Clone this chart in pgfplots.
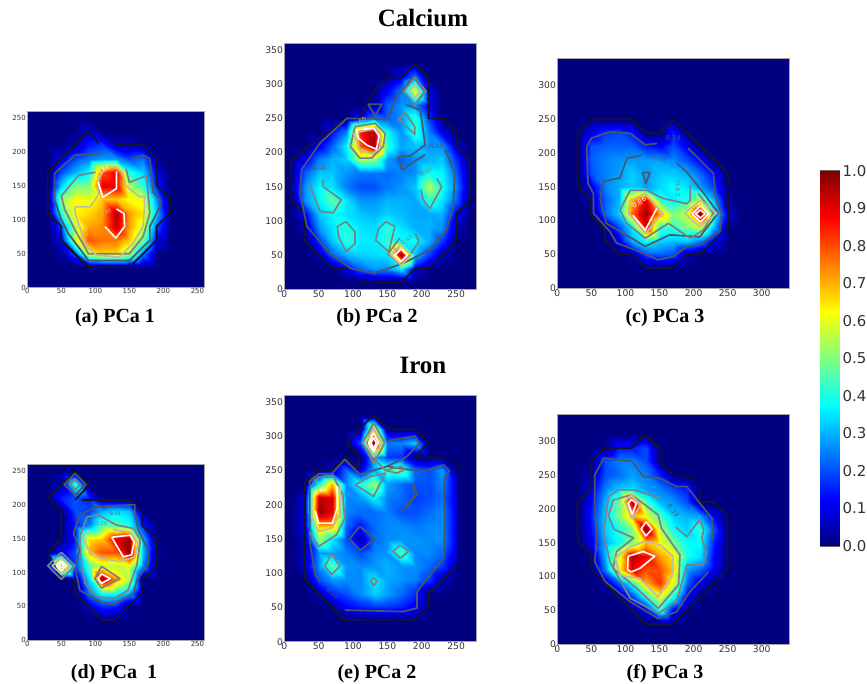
\documentclass[border=0pt]{standalone}
\usepackage{fontspec}
\setmainfont{Liberation Serif}
\newfontfamily\vera{DejaVu Sans}
\usepackage{pgfplots}
\pgfplotsset{compat=1.18}
\definecolor{cnavy}{RGB}{0,0,128}
\definecolor{ck}{RGB}{18,22,40}
\definecolor{cs}{RGB}{72,88,105}
\definecolor{cg}{RGB}{120,130,135}
\definecolor{cl}{RGB}{190,188,170}
\definecolor{ctxt}{RGB}{50,50,50}
\pgfplotsset{
 pan/.style={scale only axis,anchor=south west,colormap/jet,point meta min=0,point meta max=1,
  axis background/.style={fill=cnavy},axis line style={draw=gray!70,line width=0.5pt},
  major tick length=0pt,tick style={draw=none},
  clip=true,axis on top=false,xmin=0,ymin=0,
  /pgf/number format/assume math mode=true,
  ticklabel style={text=ctxt}},
 sm/.style={ticklabel style={font=\vera\fontsize{5.3}{5.5}\selectfont,text=ctxt},xticklabel style={yshift=3pt},yticklabel style={xshift=2.5pt},xtick={0,50,...,250},ytick={0,50,...,250},xmax=260,ymax=260},
 lg/.style={ticklabel style={font=\vera\fontsize{6.9}{7}\selectfont,text=ctxt},xticklabel style={yshift=2.5pt},yticklabel style={xshift=2.5pt}},
 hm/.style={surf,shader=interp,mesh/cols=#1,point meta=explicit},
 K/.style={no marks,draw=ck,line width=1.35pt,line join=round},
 S/.style={no marks,draw=cs,line width=1.25pt,line join=round},
 G/.style={no marks,draw=cg,line width=1.25pt,line join=round},
 L/.style={no marks,draw=cl,line width=1.2pt,line join=round},
 W/.style={no marks,draw=white,line width=1.2pt,line join=round},
}
\tikzset{lab/.style={font=\vera\fontsize{3.6}{4}\selectfont,inner sep=0pt}}
\begin{document}
\begin{tikzpicture}
\useasboundingbox (0,0) rectangle (650.25pt,513pt);
% ---------- (a)
\begin{axis}[pan,sm,at={(20.475pt,297.225pt)},width=132.75pt,height=132.5pt]
\addplot[hm=12] table[row sep=\\,header=false,meta index=0,x expr={10+20*mod(\coordindex,12)},y expr={10+20*floor(\coordindex/12)}] {
0\\0\\0\\0\\0\\0\\0\\0\\0\\0\\0\\0\\
0\\0\\0\\0\\0\\0\\0\\0\\0\\0\\0\\0\\
0\\0\\.03\\.2\\.58\\.66\\.66\\.53\\.25\\0\\0\\0\\
0\\0\\.1\\.58\\.8\\.76\\.76\\.68\\.48\\.1\\0\\0\\
0\\0\\.2\\.55\\.72\\.74\\.93\\.72\\.58\\.2\\0\\0\\
0\\0\\.42\\.63\\.66\\.72\\.95\\.72\\.65\\.3\\0\\0\\
0\\.02\\.52\\.62\\.6\\.68\\.68\\.62\\.6\\.25\\0\\0\\
0\\0\\.33\\.5\\.5\\.9\\.9\\.55\\.42\\.15\\0\\0\\
0\\0\\.2\\.3\\.38\\.8\\.9\\.4\\.33\\.1\\0\\0\\
0\\0\\.1\\.2\\.25\\.28\\.28\\.2\\.24\\.02\\0\\0\\
0\\0\\0\\.05\\.15\\.18\\.05\\.05\\.02\\0\\0\\0\\
0\\0\\0\\0\\.08\\0\\0\\0\\0\\0\\0\\0\\
0\\0\\0\\0\\0\\0\\0\\0\\0\\0\\0\\0\\
};
\addplot[K] coordinates {(105,212)(90,230)(30,170)(30,110)(50,90)(50,70)(90,30)(150,30)(190,70)(190,90)(210,110)(210,130)(190,150)(190,190)(170,210)(130,210)};
\addplot[S] coordinates {(109,197)(70,195)(40,168)(40,130)(50,100)(60,80)(90,40)(150,40)(180,70)(180,90)(195,120)(195,130)(185,140)(180,190)(170,195)(155,190)};
\addplot[G] coordinates {(100,170)(75,165)(50,135)(55,115)(70,85)(90,50)(150,50)(170,75)(180,110)(175,165)(150,155)(145,175)};
\addplot[L] coordinates {(70,119)(92,119)(104,136)(104,158)(115,178)(130,178)(140,170)(145,150)(165,134)(172,134)(172,115)(170,90)(155,65)(135,45)(102,48)(87,60)(70,110)(70,119)};
\addplot[W] coordinates {(114,90)(130,73)(143,90)(142,109)(131,116)};
\addplot[W] coordinates {(104,156)(111,133)(131,146)(131,171)};
\node[lab,text=white,rotate=30] at (axis cs:112,173) {0.83};
\node[lab,text=cl,rotate=30] at (axis cs:116,110) {0.83};
\end{axis}
% ---------- (b)
\begin{axis}[pan,lg,at={(213.225pt,296.025pt)},width=144.3pt,height=184.5pt,xmax=280,ymax=360,xtick={0,50,...,250},ytick={0,50,...,350}]
\addplot[hm=14] table[row sep=\\,header=false,meta index=0,x expr={10+20*mod(\coordindex,14)},y expr={10+20*floor(\coordindex/14)}] {
0\\0\\0\\0\\0\\0\\0\\0\\0\\0\\0\\0\\0\\0\\
0\\0\\0\\0\\.1\\.22\\.27\\.27\\.36\\.08\\0\\0\\0\\0\\
0\\0\\.05\\.22\\.3\\.33\\.34\\.35\\1\\.32\\.18\\.05\\0\\0\\
0\\0\\.18\\.32\\.41\\.36\\.36\\.41\\.37\\.38\\.3\\.18\\0\\0\\
0\\.05\\.27\\.35\\.41\\.35\\.34\\.41\\.35\\.3\\.3\\.27\\.05\\0\\
0\\.12\\.32\\.37\\.35\\.32\\.3\\.33\\.31\\.29\\.29\\.3\\.12\\0\\
0\\.27\\.37\\.47\\.35\\.27\\.27\\.3\\.3\\.29\\.42\\.35\\.22\\0\\
.03\\.27\\.37\\.35\\.25\\.2\\.2\\.24\\.27\\.32\\.56\\.39\\.25\\.03\\
.03\\.22\\.32\\.32\\.27\\.24\\.24\\.23\\.25\\.27\\.39\\.37\\.22\\.02\\
0\\.1\\.25\\.3\\.33\\.55\\.52\\.28\\.22\\.27\\.3\\.32\\.17\\0\\
0\\0\\.1\\.22\\.36\\.78\\.97\\.42\\.29\\.32\\.27\\.27\\.08\\0\\
0\\0\\0\\.13\\.25\\.85\\.95\\.38\\.27\\.42\\.25\\.1\\0\\0\\
0\\0\\0\\0\\0\\.1\\.25\\.22\\.27\\.42\\.18\\0\\0\\0\\
0\\0\\0\\0\\0\\0\\.05\\.22\\.27\\.27\\.1\\0\\0\\0\\
0\\0\\0\\0\\0\\0\\0\\.12\\.25\\.62\\.1\\0\\0\\0\\
0\\0\\0\\0\\0\\0\\0\\0\\.1\\.25\\0\\0\\0\\0\\
0\\0\\0\\0\\0\\0\\0\\0\\0\\.03\\0\\0\\0\\0\\
};
\addplot[K] coordinates {(93,30)(70,30)(30,70)(30,110)(10,130)(10,190)(90,250)(110,250)(130,290)(150,310)(170,310)(190,330)(210,310)(210,250)(230,250)(250,230)(250,210)(270,190)(270,130)(250,110)(250,70)(210,30)(190,30)(170,10)(130,10)};
\addplot[S] coordinates {(234,204)(248,170)(246,121)(236,87)(212,58)(173,38)(130,23)(96,31)(66,53)(33,92)(23,140)(25,175)(52,214)(91,250)(125,250)(149,248)(164,282)(188,311)(205,290)(190,270)};
\addplot[S] coordinates {(178,270)(198,262)(205,211)(183,195)(166,194)(171,175)(205,197)};
\addplot[S] coordinates {(122,271)(142,271)(132,254)(122,271)};
\addplot[G] coordinates {(36,155)(52,114)(71,112)(83,131)(57,150)(56,160)};
\addplot[G] coordinates {(90,99)(103,84)(103,67)(90,55)(79,77)(77,92)(90,99)};
\addplot[G] coordinates {(148,99)(161,92)(152,55)(133,72)(137,89)(148,99)};
\addplot[G] coordinates {(222,162)(229,150)(212,118)(202,131)(199,146)};
\addplot[G] coordinates {(176,258)(190,238)(190,227)(166,249)(176,258)};
\addplot[G] coordinates {(190,82)(196,70)(178,43)(168,36)(151,52)(168,75)};
\addplot[G] coordinates {(103,238)(132,243)(147,228)(144,209)(127,192)(110,192)(96,209)(103,238)};
\addplot[L] coordinates {(101,228)(134,236)(141,224)(139,206)(127,198)(110,204)(101,228)};
\addplot[W] coordinates {(105,233)(130,236)(138,224)(134,205)(120,211)(108,221)(105,233)};
\addplot[L] coordinates {(170,65)(185,50)(170,35)(155,50)(170,65)};
\addplot[W] coordinates {(170,59)(179,50)(170,41)(161,50)(170,59)};
\addplot[G] coordinates {(190,310)(206,290)(190,270)(174,290)(190,310)};
\addplot[L] coordinates {(190,300)(198,290)(190,280)(182,290)(190,300)};
\node[lab,text=cs,font=\vera\fontsize{4.5}{5}\selectfont] at (axis cs:50,177) {0.40};
\node[lab,text=cl,font=\vera\fontsize{4.5}{5}\selectfont,rotate=30] at (axis cs:110,245) {0.60};
\node[lab,text=cs,font=\vera\fontsize{4.5}{5}\selectfont] at (axis cs:222,209) {0.19};
\node[lab,text=cg,font=\vera\fontsize{4.5}{5}\selectfont,rotate=30] at (axis cs:206,172) {0.40};
\node[lab,text=cg,font=\vera\fontsize{4.5}{5}\selectfont,rotate=30] at (axis cs:178,72) {0.40};
\node[lab,text=ck,font=\vera\fontsize{4.5}{5}\selectfont,rotate=-20] at (axis cs:112,11) {0.00};
\end{axis}
% ---------- (c)
\begin{axis}[pan,lg,at={(417.975pt,296.775pt)},width=173.775pt,height=172.5pt,xmax=340,ymax=340,xtick={0,50,...,300},ytick={0,50,...,300}]
\addplot[hm=14] table[row sep=\\,header=false,meta index=0,x expr={10+20*mod(\coordindex,14)},y expr={10+20*floor(\coordindex/14)}] {
0\\0\\0\\0\\0\\0\\0\\0\\0\\0\\0\\0\\0\\0\\
0\\0\\0\\0\\0\\0\\0\\0\\0\\0\\0\\0\\0\\0\\
0\\0\\0\\0\\0\\.05\\.2\\.22\\.2\\.05\\0\\0\\0\\0\\
0\\0\\0\\0\\.1\\.3\\.38\\.33\\.32\\.33\\.25\\.1\\0\\0\\
0\\0\\0\\.03\\.2\\.36\\.9\\.42\\.42\\.5\\.58\\.3\\0\\0\\
0\\0\\0\\.22\\.33\\.78\\.98\\.72\\.5\\.58\\1\\.4\\.08\\0\\
0\\0\\.05\\.22\\.3\\.7\\.9\\.42\\.36\\.4\\.55\\.3\\.03\\0\\
0\\0\\.1\\.25\\.3\\.33\\.28\\.34\\.38\\.35\\.28\\.18\\0\\0\\
0\\0\\.2\\.25\\.28\\.33\\.28\\.32\\.32\\.3\\.22\\.12\\0\\0\\
0\\0\\.22\\.25\\.27\\.28\\.28\\.28\\.26\\.2\\.12\\0\\0\\0\\
0\\0\\.2\\.22\\.22\\.22\\.15\\.12\\.2\\.1\\0\\0\\0\\0\\
0\\0\\.1\\.18\\.2\\.15\\0\\0\\.15\\0\\0\\0\\0\\0\\
0\\0\\0\\0\\0\\0\\0\\0\\0\\0\\0\\0\\0\\0\\
0\\0\\0\\0\\0\\0\\0\\0\\0\\0\\0\\0\\0\\0\\
};
\addplot[K] coordinates {(251,135)(251,91)(209,50)(190,50)(170,30)(131,30)(109,50)(90,50)(70,71)(70,86)(48,110)(50,130)(30,151)(30,230)(50,250)(109,250)(131,230)(150,230)(170,250)(251,170)(251,150)};
\addplot[S] coordinates {(146,214)(129,212)(107,229)(77,231)(50,222)(43,209)(45,155)(53,140)(53,111)(77,84)(87,67)(126,52)(148,42)(170,47)(190,62)(209,64)(239,86)(241,110)(232,135)(229,170)(192,207)};
\addplot[S] coordinates {(124,197)(102,192)(92,163)(67,158)(63,131)(72,96)(129,62)(165,79)(209,76)(236,111)(219,135)(190,172)(175,185)};
\addplot[S] coordinates {(125,171)(136,171)(130,155)(125,171)};
\addplot[G] coordinates {(195,153)(195,130)(190,125)(155,133)(131,145)(107,145)(92,116)(102,96)(129,74)(163,96)(195,74)(214,86)(229,111)(207,140)};
\addplot[L] coordinates {(107,130)(129,140)(155,111)(129,81)(104,111)(107,130)};
\addplot[L] coordinates {(210,130)(234,111)(209,91)(187,111)(210,130)};
\addplot[W] coordinates {(146,118)(129,86)(111,108)};
\addplot[W] coordinates {(210,122)(222,110)(210,98)(198,110)(210,122)};
\addplot[W] coordinates {(210,116)(217,110)(210,104)(203,110)(210,116)};
\node[lab,text=cs,font=\vera\fontsize{5}{5}\selectfont,rotate=-15] at (axis cs:150,192) {0.29};
\node[lab,text=cs,font=\vera\fontsize{5}{5}\selectfont] at (axis cs:170,222) {0.14};
\node[lab,text=cg,font=\vera\fontsize{5}{5}\selectfont,rotate=-90] at (axis cs:177,147) {0.43};
\node[lab,text=white,font=\vera\fontsize{5}{5}\selectfont,rotate=30] at (axis cs:120,127) {0.86};
\node[lab,text=ck,font=\vera\fontsize{5}{5}\selectfont,rotate=-90] at (axis cs:248,128) {0.00};
\end{axis}
% ---------- (d)
\begin{axis}[pan,sm,at={(20.475pt,32.775pt)},width=132.75pt,height=132.2pt]
\addplot[hm=11] table[row sep=\\,header=false,meta index=0,x expr={10+20*mod(\coordindex,11)},y expr={10+20*floor(\coordindex/11)}] {
0\\0\\0\\0\\0\\0\\0\\0\\0\\0\\0\\
0\\0\\0\\0\\0\\0\\0\\0\\0\\0\\0\\
0\\0\\0\\0\\.08\\.17\\.15\\0\\0\\0\\0\\
0\\0\\0\\0\\.25\\.4\\.4\\.3\\0\\0\\0\\
0\\0\\0\\.02\\.35\\.98\\.72\\.55\\0\\0\\0\\
0\\0\\.9\\.18\\.45\\.58\\.55\\.6\\.25\\0\\0\\
0\\0\\.1\\.2\\.7\\.8\\.8\\.98\\.3\\.02\\0\\
0\\0\\0\\.15\\.65\\.68\\.9\\.98\\.3\\0\\0\\
0\\0\\0\\.15\\.25\\.45\\.45\\.4\\.15\\0\\0\\
0\\0\\0\\.2\\.18\\.3\\.35\\.32\\0\\0\\0\\
0\\0\\.15\\.2\\.15\\0\\0\\0\\0\\0\\0\\
0\\0\\.05\\.42\\0\\0\\0\\0\\0\\0\\0\\
0\\0\\0\\0\\0\\0\\0\\0\\0\\0\\0\\
};
\addplot[K] coordinates {(80,207)(151,207)(168,190)(168,170)(190,150)(190,109)(168,89)(168,69)(129,30)(109,30)(70,69)(70,89)(50,90)(30,129)(50,150)(50,190)(30,210)(70,249)(91,229)(70,207)};
\addplot[S] coordinates {(102,197)(158,200)(158,187)(163,163)(177,133)(178,113)(161,89)(156,69)(126,52)(107,57)(77,74)(70,109)(77,133)(68,158)(77,185)(102,197)};
\addplot[G] coordinates {(131,170)(104,185)(88,182)(77,153)(80,109)(85,84)(102,64)(129,62)(148,74)(161,111)(166,148)(156,165)(131,170)};
\addplot[L] coordinates {(126,163)(151,160)(163,143)(158,123)(136,116)(107,121)(90,133)(82,153)(90,163)};
\addplot[W] coordinates {(124,152)(151,155)(157,145)(153,126)(141,123)(124,152)};
\addplot[G] coordinates {(109,109)(136,91)(109,77)(99,91)(109,109)};
\addplot[W] coordinates {(109,98)(122,91)(109,84)(104,91)(109,98)};
\addplot[G] coordinates {(50,130)(70,110)(50,90)(30,110)(50,130)};
\addplot[L] coordinates {(50,123)(63,110)(50,97)(37,110)(50,123)};
\addplot[W] coordinates {(50,117)(57,110)(50,103)(43,110)(50,117)};
\addplot[W] coordinates {(50,113)(53,110)(50,107)(47,110)(50,113)};
\addplot[S] coordinates {(70,246)(86,230)(70,214)(54,230)(70,246)};
\addplot[G] coordinates {(70,238)(78,230)(70,222)(62,230)(70,238)};
\node[lab,text=cs] at (axis cs:129,187) {0.33};
\node[lab,text=cg] at (axis cs:109,172) {0.50};
\node[lab,text=cs] at (axis cs:90,197) {0.17};
\end{axis}
% ---------- (e)
\begin{axis}[pan,lg,at={(213.225pt,31.725pt)},width=144.3pt,height=185pt,xmax=280,ymax=360,xtick={0,50,...,250},ytick={0,50,...,350}]
\addplot[hm=13] table[row sep=\\,header=false,meta index=0,x expr={10+20*mod(\coordindex,13)},y expr={10+20*floor(\coordindex/13)}] {
0\\0\\0\\0\\0\\0\\0\\0\\0\\0\\0\\0\\0\\
0\\0\\0\\0\\0\\0\\0\\0\\0\\0\\0\\0\\0\\
0\\0\\0\\.02\\.12\\.15\\.17\\.17\\.15\\.1\\0\\0\\0\\
0\\0\\.05\\.15\\.2\\.26\\.33\\.28\\.23\\.16\\0\\0\\0\\
0\\0\\.2\\.27\\.26\\.26\\.36\\.29\\.27\\.25\\.18\\.05\\0\\
0\\.08\\.27\\.47\\.27\\.26\\.27\\.3\\.27\\.27\\.23\\.18\\.03\\
0\\.05\\.27\\.28\\.25\\.2\\.26\\.27\\.45\\.26\\.26\\.23\\.08\\
0\\.05\\.53\\.36\\.2\\.05\\.23\\.26\\.27\\.27\\.26\\.27\\.1\\
0\\.1\\.72\\.72\\.23\\.15\\.23\\.26\\.26\\.24\\.26\\.26\\.1\\
0\\.1\\.98\\.9\\.26\\.23\\.23\\.25\\.2\\.2\\.23\\.26\\.1\\
0\\.1\\.95\\.92\\.26\\.27\\.37\\.25\\.23\\.18\\.2\\.23\\.08\\
0\\0\\.4\\.7\\.26\\.4\\.53\\.28\\.23\\.2\\.2\\.26\\.08\\
0\\0\\0\\.05\\.23\\.1\\.3\\.45\\.48\\.23\\.2\\.28\\0\\
0\\0\\0\\0\\0\\0\\.3\\.18\\.17\\0\\0\\0\\0\\
0\\0\\0\\0\\0\\.2\\1\\.25\\.26\\.33\\0\\0\\0\\
0\\0\\0\\0\\0\\0\\.65\\0\\0\\0\\0\\0\\0\\
0\\0\\0\\0\\0\\0\\0\\0\\0\\0\\0\\0\\0\\
};
\addplot[K] coordinates {(250,110)(210,71)(210,51)(190,32)(88,32)(30,90)(30,232)(50,251)(69,251)(90,270)(109,251)(109,270)(90,290)(130,331)(150,310)(190,310)(210,290)(190,270)(232,268)};
\addplot[S] coordinates {(52,88)(45,98)(37,146)(37,234)(50,245)(69,245)(88,266)(110,244)(130,250)(150,256)(178,270)(197,290)(190,300)(150,293)};
\addplot[S] coordinates {(150,256)(200,248)(232,258)(240,250)(232,234)(234,180)(232,122)(193,73)(193,49)(173,44)(88,46)};
\addplot[S] coordinates {(110,168)(132,150)(110,133)(95,150)(110,168)};
\addplot[S] coordinates {(188,232)(193,215)(171,190)(188,212)(188,232)};
\addplot[G] coordinates {(69,129)(81,110)(69,98)(59,110)(69,129)};
\addplot[G] coordinates {(169,141)(181,132)(169,122)(158,132)(169,141)};
\addplot[G] coordinates {(130,94)(135,88)(130,82)(126,88)(130,94)};
\addplot[G] coordinates {(103,229)(130,212)(147,246)(125,241)(103,229)};
\addplot[G] coordinates {(147,250)(171,256)(175,251)(164,246)(147,250)};
\addplot[G] coordinates {(147,250)(125,273)(120,290)(130,320)(146,290)(130,260)(114,290)(130,320)};
\addplot[L] coordinates {(130,312)(142,290)(130,270)(118,290)(130,312)};
\addplot[W] coordinates {(130,305)(137,290)(130,278)(123,290)(130,305)};
\addplot[W] coordinates {(130,298)(134,290)(130,282)(126,290)(130,298)};
\addplot[G] coordinates {(37,160)(50,139)(76,156)(88,180)(85,215)(72,240)(50,240)(38,225)};
\addplot[L] coordinates {(40,210)(40,180)(50,161)(69,166)(81,185)(81,227)};
\addplot[W] coordinates {(45,191)(50,173)(70,173)(77,195)(77,227)};
\node[lab,text=white,font=\vera\fontsize{4.5}{5}\selectfont,rotate=30] at (axis cs:52,220) {0.80};
\node[lab,text=cs,font=\vera\fontsize{4.5}{5}\selectfont,rotate=-40] at (axis cs:70,70) {0.20};
\node[lab,text=ck,font=\vera\fontsize{4.5}{5}\selectfont,rotate=-70] at (axis cs:253,256) {0.00};
\end{axis}
% ---------- (f)
\begin{axis}[pan,lg,at={(417.975pt,29.775pt)},width=173.775pt,height=172.7pt,xmax=340,ymax=340,xtick={0,50,...,300},ytick={0,50,...,300}]
\addplot[hm=14] table[row sep=\\,header=false,meta index=0,x expr={10+20*mod(\coordindex,14)},y expr={10+20*floor(\coordindex/14)}] {
0\\0\\0\\0\\0\\0\\0\\0\\0\\0\\0\\0\\0\\0\\
0\\0\\0\\0\\0\\0\\0\\0\\0\\0\\0\\0\\0\\0\\
0\\0\\0\\0\\0\\.02\\.12\\.42\\.12\\0\\0\\0\\0\\0\\
0\\0\\0\\0\\.02\\.18\\.4\\.6\\.4\\.1\\0\\0\\0\\0\\
0\\0\\0\\.05\\.22\\.4\\.7\\.83\\.6\\.22\\.08\\0\\0\\0\\
0\\0\\0\\.25\\.62\\.9\\.8\\.8\\.68\\.28\\.22\\.1\\0\\0\\
0\\0\\.02\\.3\\.6\\.95\\.88\\.72\\.65\\.4\\.35\\.12\\0\\0\\
0\\0\\.1\\.3\\.38\\.5\\.7\\.62\\.5\\.38\\.38\\.15\\0\\0\\
0\\0\\.13\\.33\\.4\\.5\\1\\.55\\.38\\.33\\.42\\.2\\0\\0\\
0\\0\\.15\\.33\\.5\\.7\\.6\\.45\\.33\\.3\\.28\\.12\\0\\0\\
0\\0\\.12\\.3\\.48\\.95\\.45\\.3\\.27\\.2\\0\\0\\0\\0\\
0\\0\\.1\\.25\\.33\\.35\\.28\\.25\\.2\\.15\\0\\0\\0\\0\\
0\\0\\.05\\.2\\.23\\.28\\.25\\.15\\0\\0\\0\\0\\0\\0\\
0\\0\\0\\.2\\.25\\.25\\.2\\0\\0\\0\\0\\0\\0\\0\\
0\\0\\0\\0\\.15\\.15\\.2\\0\\0\\0\\0\\0\\0\\0\\
0\\0\\0\\0\\0\\0\\0\\0\\0\\0\\0\\0\\0\\0\\
0\\0\\0\\0\\0\\0\\0\\0\\0\\0\\0\\0\\0\\0\\
};
\addplot[K] coordinates {(170,250)(150,270)(150,290)(129,309)(109,290)(70,290)(50,270)(50,230)(30,210)(30,152)(50,132)(50,110)(129,30)(170,30)(250,110)(250,190)(229,210)(209,210)(209,230)};
\addplot[S] coordinates {(228,154)(227,186)(207,211)(190,233)(175,233)(151,245)(126,248)(110,270)(90,272)(68,275)(55,250)(55,206)(58,157)(55,122)(70,93)(107,63)(148,38)(175,48)(195,78)(222,107)};
\addplot[G] coordinates {(151,216)(112,228)(90,228)(75,218)(68,166)(77,122)(107,68)(148,46)(175,63)(190,117)(214,117)(219,134)(212,157)(215,169)(209,184)(190,159)(174,173)};
\addplot[G] coordinates {(82,213)(75,190)(83,170)(112,157)(87,137)(82,112)(116,83)(148,53)(178,88)(180,132)(153,171)(148,191)(109,221)(82,213)};
\addplot[L] coordinates {(170,130)(168,100)(148,70)(121,97)(92,102)(85,127)(107,144)(129,152)(151,147)(170,130)};
\addplot[L] coordinates {(99,211)(109,221)(122,205)(110,185)(99,211)};
\addplot[W] coordinates {(109,214)(116,208)(110,192)(104,208)(109,214)};
\addplot[W] coordinates {(130,181)(139,170)(130,160)(123,170)(130,181)};
\addplot[W] coordinates {(104,130)(126,137)(143,130)(121,112)(109,107)(103,110)(104,130)};
\node[lab,text=ck,font=\vera\fontsize{5}{5}\selectfont,rotate=-15] at (axis cs:190,247) {0.00};
\node[lab,text=cs,font=\vera\fontsize{5}{5}\selectfont,rotate=-50] at (axis cs:170,197) {0.33};
\node[lab,text=cl,font=\vera\fontsize{5}{5}\selectfont,rotate=70] at (axis cs:86,205) {0.50};
\end{axis}
% ---------- colour bar
\begin{axis}[scale only axis,anchor=south west,at={(615pt,103.5pt)},width=14.475pt,height=281.5pt,
  colormap/jet,point meta min=0,point meta max=1,xmin=0,xmax=1,ymin=0,ymax=1,xtick=\empty,
  ytick={0,0.1,...,1.0},yticklabel pos=right,major tick length=0pt,
  /pgf/number format/assume math mode=true,/pgf/number format/fixed,/pgf/number format/fixed zerofill,/pgf/number format/precision=1,
  ticklabel style={font=\vera\fontsize{11.2}{12}\selectfont,text=ctxt},yticklabel style={xshift=-1pt},
  axis line style={draw=gray!80!black,line width=0.5pt}]
\addplot[surf,shader=interp,mesh/cols=2,point meta=explicit] coordinates {
(0,0) [0] (1,0) [0]
(0,1) [1] (1,1) [1]
};
\end{axis}
% ---------- titles
\node[font=\bfseries\fontsize{18.7}{20}\selectfont] at (317.25pt,499.5pt) {Calcium};
\node[font=\bfseries\fontsize{18.7}{20}\selectfont] at (317.25pt,239.25pt) {Iron};
\node[font=\bfseries\fontsize{15}{16}\selectfont] at (86.25pt,274.5pt) {(a) PCa 1};
\node[font=\bfseries\fontsize{15}{16}\selectfont] at (282.75pt,274.5pt) {(b) PCa 2};
\node[font=\bfseries\fontsize{15}{16}\selectfont] at (498.75pt,274.5pt) {(c) PCa 3};
\node[font=\bfseries\fontsize{15}{16}\selectfont] at (85.5pt,7.5pt) {(d) PCa\ \ 1};
\node[font=\bfseries\fontsize{15}{16}\selectfont] at (282.75pt,7.5pt) {(e) PCa 2};
\node[font=\bfseries\fontsize{15}{16}\selectfont] at (498.75pt,7.5pt) {(f) PCa 3};
\end{tikzpicture}
\end{document}
